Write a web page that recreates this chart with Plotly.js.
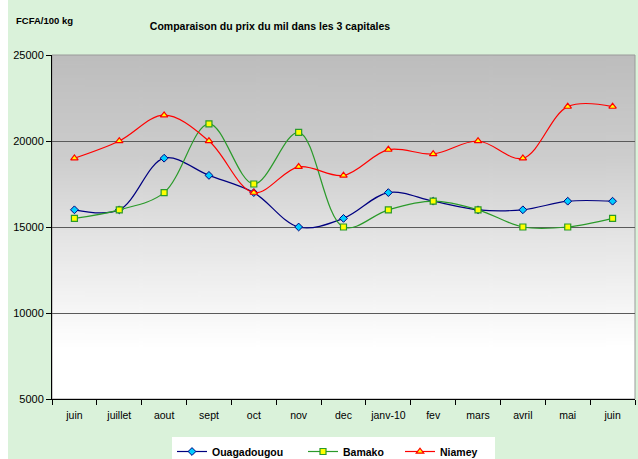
<!DOCTYPE html>
<html>
<head>
<meta charset="utf-8">
<script src="https://cdn.plot.ly/plotly-3.0.1.min.js"></script>
<style>
html,body{margin:0;padding:0;background:#ffffff;}
#chart{position:absolute;left:8px;top:0;width:630px;height:459px;}
</style>
</head>
<body>
<div id="chart"></div>
<script>
var months = ["juin","juillet","aout","sept","oct","nov","dec","janv-10","fev","mars","avril","mai","juin"];
var ouagadougou = [16000,16000,19000,18000,17000,15000,15500,17000,16500,16000,16000,16500,16500];
var bamako = [15500,16000,17000,21000,17500,20500,15000,16000,16500,16000,15000,15000,15500];
var niamey = [19000,20000,21500,20000,17000,18500,18000,19500,19250,20000,19000,22000,22000];
var yTicks = [5000,10000,15000,20000,25000];

var idx = months.map(function(m,i){return i;});

// gradient background image
var cv = document.createElement('canvas');
cv.width = 10; cv.height = 200;
var ctx = cv.getContext('2d');
var g = ctx.createLinearGradient(0,0,0,200);
g.addColorStop(0,'#bdbdbd');
g.addColorStop(0.3,'#cdcdcd');
g.addColorStop(0.55,'#e6e6e6');
g.addColorStop(0.75,'#f7f7f7');
g.addColorStop(0.85,'#ffffff');
g.addColorStop(1,'#ffffff');
ctx.fillStyle = g;
ctx.fillRect(0,0,10,200);
var bgUrl = cv.toDataURL();

var FONT = '"Liberation Sans", Arial, sans-serif';

var traces = [
  {x: idx, y: ouagadougou, name: 'Ouagadougou', type: 'scatter', mode: 'lines+markers', legendwidth: 86,
   line: {color: '#000080', width: 1.2, shape: 'spline', smoothing: 1},
   marker: {symbol: 'diamond', size: 6, color: '#00ccff', line: {color: '#000080', width: 1}}},
  {x: idx, y: bamako, name: 'Bamako', type: 'scatter', mode: 'lines+markers', legendwidth: 52,
   line: {color: '#2a9a2a', width: 1.2, shape: 'spline', smoothing: 1},
   marker: {symbol: 'square', size: 6, color: '#ffff00', line: {color: '#2a9a2a', width: 1.2}}},
  {x: idx, y: niamey, name: 'Niamey', type: 'scatter', mode: 'lines+markers', legendwidth: 50,
   line: {color: '#ff0000', width: 1.2, shape: 'spline', smoothing: 1},
   marker: {symbol: 'triangle-up', size: 6.5, color: '#ffff00', line: {color: '#ff0000', width: 1.2}}}
];

var L = 44, R = 3, T = 55, B = 60, W = 630, H = 459;
var pw = W - L - R, ph = H - T - B;

var layout = {
  width: W, height: H,
  paper_bgcolor: '#daf2da',
  plot_bgcolor: 'rgba(0,0,0,0)',
  margin: {l: L, r: R, t: T, b: B},
  font: {family: FONT, size: 10.5, color: '#000'},
  title: {text: '<b>Comparaison du prix du mil dans les 3 capitales</b>',
          font: {family: FONT, size: 10.5, color: '#000'},
          x: 262/W, xanchor: 'center', xref: 'container', y: 1 - 26/H, yanchor: 'middle', yref: 'container'},
  showlegend: true,
  legend: {orientation: 'h', xref: 'container', yref: 'container', x: 164/W, xanchor: 'left',
           y: 22/H, yanchor: 'top', bgcolor: '#ffffff', borderwidth: 0,
           font: {family: FONT, size: 10.5, color: '#000', weight: 'bold'},
           itemwidth: 30, tracegroupgap: 0},
  xaxis: {
    range: [-0.5, 12.5], tickmode: 'array', tickvals: idx, ticktext: months,
    ticks: '', showgrid: false, zeroline: false,
    showline: true, linecolor: '#000', linewidth: 1,
    tickfont: {family: FONT, size: 10.5, color: '#000'},
    ticklabelstandoff: 6,
    minor: {tick0: -0.5, dtick: 1, ticks: 'outside', ticklen: 5, tickcolor: '#000', showgrid: false}
  },
  yaxis: {
    range: [5000, 25000], tickmode: 'array', tickvals: yTicks, ticktext: yTicks.map(String),
    ticks: 'outside', ticklen: 5, tickcolor: '#000',
    showgrid: true, gridcolor: '#5a5a5a', gridwidth: 1, zeroline: false,
    showline: true, linecolor: '#000', linewidth: 1,
    tickfont: {family: FONT, size: 11, color: '#000'}
  },
  images: [{source: bgUrl, xref: 'paper', yref: 'paper', x: 0, y: 1, sizex: 1, sizey: 1,
            xanchor: 'left', yanchor: 'top', sizing: 'stretch', layer: 'below'}],
  shapes: [{type: 'rect', xref: 'paper', yref: 'paper', x0: 0, x1: 1, y0: 0, y1: 1,
            line: {color: '#9a9a9a', width: 1}, layer: 'below'}],
  annotations: [{text: '<b>FCFA/100 kg</b>', xref: 'paper', yref: 'paper',
                 x: (6 - L)/pw, y: (H - 20 - B)/ph, xanchor: 'left', yanchor: 'middle', showarrow: false,
                 font: {family: FONT, size: 9.5, color: '#000'}}]
};

Plotly.newPlot('chart', traces, layout, {displayModeBar: false, staticPlot: true});
</script>
</body>
</html>
